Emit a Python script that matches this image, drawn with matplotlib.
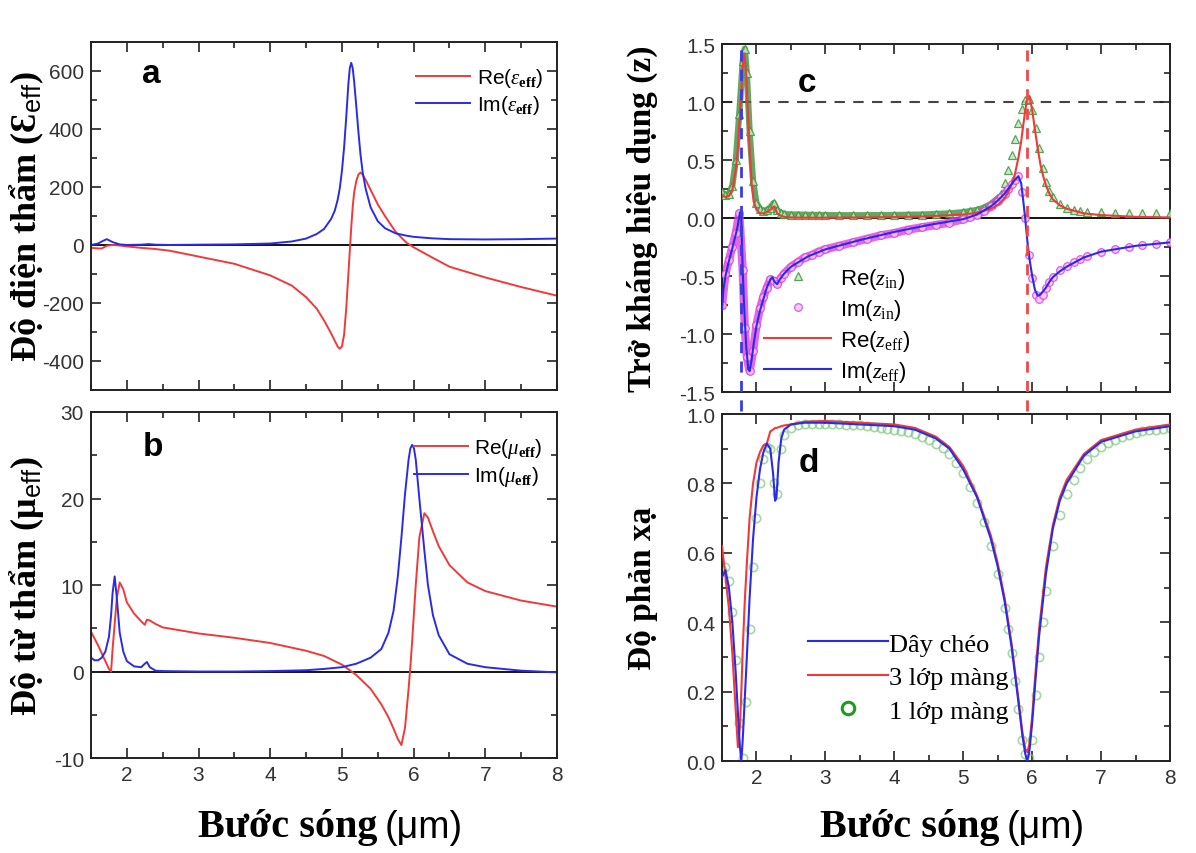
import matplotlib
matplotlib.use("Agg")
import matplotlib.pyplot as plt
import matplotlib.transforms as mtransforms
from matplotlib.ticker import MultipleLocator, FormatStrFormatter

plt.rcParams['font.family'] = ['Liberation Sans', 'DejaVu Sans']
plt.rcParams['mathtext.fontset'] = 'custom'
plt.rcParams['mathtext.rm'] = 'Liberation Serif'
plt.rcParams['mathtext.it'] = 'Liberation Serif:italic'
plt.rcParams['mathtext.bf'] = 'Liberation Serif:bold'
plt.rcParams['mathtext.sf'] = 'Liberation Sans'
plt.rcParams['mathtext.fallback'] = 'stix'
plt.rcParams['axes.unicode_minus'] = False

SERIF = ['Liberation Serif', 'DejaVu Serif']
RED = '#f03a3a'
BLUE = '#2b2be6'
GREEN = '#2e8b2e'
MAGENTA = '#e040e0'

# --- a: effective permittivity -------------------------------------------
wl_a = [1.5, 1.6, 1.65, 1.72, 1.8, 1.9, 2.0, 2.2, 2.3, 2.4, 2.6, 3.0, 3.5, 4.0,
        4.3, 4.5, 4.65, 4.75, 4.85, 4.9, 4.94, 4.97, 5.0, 5.03, 5.06, 5.09,
        5.11, 5.13, 5.15, 5.17, 5.2, 5.23, 5.26, 5.29, 5.33, 5.4, 5.5, 5.6,
        5.75, 5.9, 6.0, 6.25, 6.5, 7.0, 7.5, 8.0]
re_eps = [-10, -12, -12, -3, 0, -2, -5, -10, -12, -14, -20, -40, -65, -105,
          -140, -180, -220, -260, -305, -330, -350, -358, -350, -310, -220, -100,
          -20, 60, 130, 180, 220, 243, 250, 242, 225, 190, 140, 100,
          45, 8, -8, -42, -75, -112, -145, -175]
im_eps = [0, 5, 12, 20, 10, 2, 0, 1, 3, 1, 0, 1, 2, 5,
          12, 22, 38, 55, 90, 118, 155, 195, 255, 335, 440, 555,
          610, 628, 610, 565, 480, 390, 310, 250, 195, 130, 82, 58,
          40, 32, 28, 23, 20, 19, 20, 22]

# --- b: effective permeability -------------------------------------------
wl_b = [1.5, 1.55, 1.6, 1.65, 1.7, 1.75, 1.78, 1.8, 1.83, 1.86, 1.9, 1.95, 2.0,
        2.1, 2.2, 2.25, 2.28, 2.32, 2.4, 2.5, 3.0, 3.5, 4.0, 4.5, 4.75, 5.0,
        5.2, 5.4, 5.55, 5.65, 5.72, 5.78, 5.83, 5.88, 5.93, 5.955, 5.98, 6.005,
        6.03, 6.08, 6.15, 6.2, 6.27, 6.35, 6.5, 6.75, 7.0, 7.5, 8.0]
re_mu = [4.6, 3.8, 3.0, 2.1, 1.2, 0.3, 0.0, 2.5, 5.5, 8.5, 10.3, 9.5, 8.0,
         6.7, 5.8, 5.4, 6.0, 5.9, 5.5, 5.1, 4.4, 3.9, 3.3, 2.4, 1.8, 0.8,
         -0.4, -2.0, -3.8, -5.3, -6.6, -7.8, -8.5, -6.5, -2.0, 0.6, 3.5, 6.8,
         10.0, 15.5, 18.3, 17.8, 16.2, 14.5, 12.3, 10.3, 9.3, 8.2, 7.5]
im_mu = [1.6, 1.3, 1.3, 1.6, 2.3, 4.0, 6.5, 9.0, 11.0, 8.5, 4.5, 2.3, 1.2,
         0.6, 0.5, 0.9, 1.1, 0.5, 0.1, 0.05, 0.0, 0.0, 0.05, 0.15, 0.3, 0.5,
         0.9, 1.6, 2.6, 4.5, 7.0, 11.0, 15.5, 20.5, 24.5, 25.8, 26.2, 25.8,
         24.5, 20.0, 14.0, 10.0, 6.5, 4.2, 2.0, 0.9, 0.5, 0.1, -0.1]

# --- c: effective impedance ----------------------------------------------
wl_c = [1.5, 1.52, 1.55, 1.6, 1.65, 1.7, 1.73, 1.76, 1.78, 1.8, 1.82, 1.85,
        1.88, 1.9, 1.93, 1.96, 2.0, 2.05, 2.1, 2.15, 2.2, 2.23, 2.26, 2.3, 2.35,
        2.4, 2.5, 2.75, 3.0, 3.5, 4.0, 4.5, 5.0, 5.2, 5.4, 5.5, 5.6, 5.65, 5.7,
        5.75, 5.8, 5.84, 5.87, 5.9, 5.93, 5.96, 6.0, 6.04, 6.08, 6.12, 6.16,
        6.2, 6.25, 6.3, 6.4, 6.5, 6.75, 7.0, 7.5, 8.0]
re_z_eff = [0.2, 0.19, 0.18, 0.19, 0.24, 0.42, 0.6, 0.9, 1.1, 1.3, 1.42, 1.25,
            0.85, 0.6, 0.3, 0.14, 0.07, 0.04, 0.04, 0.05, 0.07, 0.09, 0.1, 0.04, 0.02,
            0.01, 0.005, 0.003, 0.003, 0.005, 0.008, 0.015, 0.03, 0.045, 0.08, 0.11,
            0.17, 0.22, 0.29, 0.38, 0.52, 0.66, 0.8, 0.93, 1.04, 1.05, 0.93, 0.76,
            0.6, 0.46, 0.36, 0.28, 0.21, 0.16, 0.11, 0.08, 0.04, 0.025, 0.01, 0.005]
im_z_eff = [-0.79, -0.62, -0.5, -0.37, -0.26, -0.14, -0.06, 0.05, 0.0, -0.45,
            -0.75, -1.1, -1.3, -1.32, -1.22, -1.08, -0.93, -0.8, -0.7, -0.6, -0.53,
            -0.51, -0.55, -0.57, -0.52, -0.48, -0.42, -0.33, -0.27, -0.19, -0.12,
            -0.06, -0.01, 0.03, 0.1, 0.15, 0.21, 0.25, 0.29, 0.33, 0.36, 0.3, 0.15,
            -0.01, -0.2, -0.35, -0.5, -0.62, -0.67, -0.66, -0.63, -0.6, -0.55,
            -0.51, -0.46, -0.42, -0.34, -0.29, -0.24, -0.21]

wl_zin = [1.5, 1.55, 1.6, 1.65, 1.7, 1.75, 1.8, 1.83, 1.86, 1.9, 1.95, 2.0, 2.05,
          2.1, 2.15, 2.2, 2.25, 2.3, 2.35, 2.4, 2.5, 2.6, 2.7, 2.8, 2.9, 3.0, 3.2,
          3.4, 3.6, 3.8, 4.0, 4.2, 4.4, 4.6, 4.8, 5.0, 5.1, 5.2, 5.3, 5.4, 5.5,
          5.55, 5.6, 5.65, 5.7, 5.75, 5.8, 5.85, 5.9, 5.95, 6.0, 6.05, 6.1, 6.15,
          6.2, 6.25, 6.3, 6.4, 6.5, 6.6, 6.7, 6.8, 7.0, 7.2, 7.4, 7.6, 7.8, 8.0]
re_z_in = [0.22, 0.2, 0.21, 0.28, 0.5, 0.9, 1.35, 1.46, 1.25, 0.75, 0.32, 0.13,
           0.08, 0.06, 0.07, 0.09, 0.13, 0.07, 0.045, 0.035, 0.03, 0.03, 0.028,
           0.027, 0.026, 0.025, 0.024, 0.024, 0.024, 0.025, 0.026, 0.028, 0.03,
           0.035, 0.04, 0.05, 0.06, 0.07, 0.09, 0.12, 0.17, 0.21, 0.3, 0.41, 0.54,
           0.68, 0.82, 0.94, 1.02, 1.03, 0.93, 0.78, 0.6, 0.43, 0.31, 0.23, 0.18,
           0.12, 0.09, 0.07, 0.06, 0.055, 0.05, 0.045, 0.042, 0.04, 0.04, 0.04]
im_z_in = [-0.75, -0.48, -0.36, -0.25, -0.13, 0.04, -0.45, -0.95, -1.2, -1.32,
           -1.15, -0.92, -0.78, -0.68, -0.6, -0.53, -0.54, -0.57, -0.52, -0.48,
           -0.42, -0.38, -0.34, -0.32, -0.29, -0.27, -0.24, -0.21, -0.18, -0.15,
           -0.13, -0.1, -0.08, -0.06, -0.04, -0.01, 0.01, 0.03, 0.06, 0.1, 0.15,
           0.18, 0.21, 0.25, 0.29, 0.33, 0.36, 0.22, 0.0, -0.32, -0.52, -0.66,
           -0.7, -0.66, -0.6, -0.55, -0.51, -0.45, -0.41, -0.38, -0.35, -0.33,
           -0.29, -0.27, -0.25, -0.23, -0.22, -0.21]

# resonance markers (µm)
res_lo = 1.78
res_hi = 5.93

# --- d: reflectance --------------------------------------------------------
wl_d = [1.5, 1.55, 1.6, 1.65, 1.7, 1.73, 1.76, 1.78, 1.8, 1.83, 1.86, 1.9, 1.95,
        2.0, 2.05, 2.1, 2.15, 2.2, 2.24, 2.27, 2.29, 2.32, 2.36, 2.4, 2.5, 2.7,
        3.0, 3.5, 4.0, 4.3, 4.6, 4.8, 5.0, 5.2, 5.4, 5.5, 5.6, 5.7, 5.8, 5.86,
        5.9, 5.93, 5.96, 6.0, 6.05, 6.1, 6.2, 6.3, 6.4, 6.5, 6.75, 7.0, 7.5, 8.0]
r_cross = [0.53, 0.55, 0.5, 0.4, 0.25, 0.14, 0.04, 0.0, 0.06, 0.18, 0.3, 0.47,
           0.64, 0.76, 0.84, 0.89, 0.915, 0.9, 0.83, 0.75, 0.76, 0.86, 0.93,
           0.955, 0.97, 0.975, 0.975, 0.97, 0.965, 0.955, 0.93, 0.9, 0.84, 0.76,
           0.64, 0.56, 0.46, 0.33, 0.17, 0.07, 0.02, 0.0, 0.03, 0.11, 0.24, 0.36,
           0.54, 0.67, 0.75, 0.8, 0.88, 0.92, 0.95, 0.965]
r_three = [0.62, 0.53, 0.44, 0.31, 0.14, 0.04, 0.1, 0.2, 0.32, 0.46, 0.57, 0.7,
           0.8, 0.86, 0.89, 0.91, 0.915, 0.95, 0.955, 0.96, 0.96, 0.962, 0.965,
           0.967, 0.97, 0.978, 0.98, 0.975, 0.97, 0.96, 0.935, 0.905, 0.85,
           0.765, 0.65, 0.57, 0.47, 0.34, 0.18, 0.08, 0.035, 0.025, 0.05, 0.13,
           0.26, 0.38, 0.56, 0.68, 0.76, 0.81, 0.885, 0.925, 0.955, 0.97]
wl_one = [1.5, 1.55, 1.6, 1.65, 1.7, 1.75, 1.8, 1.85, 1.9, 1.95, 2.0, 2.05, 2.1,
          2.15, 2.2, 2.25, 2.3, 2.35, 2.4, 2.5, 2.6, 2.7, 2.8, 2.9, 3.0, 3.1,
          3.2, 3.3, 3.4, 3.5, 3.6, 3.7, 3.8, 3.9, 4.0, 4.1, 4.2, 4.3, 4.4, 4.5,
          4.6, 4.7, 4.8, 4.9, 5.0, 5.1, 5.2, 5.3, 5.4, 5.5, 5.6, 5.65, 5.7, 5.75,
          5.8, 5.85, 5.9, 5.95, 6.0, 6.05, 6.1, 6.15, 6.2, 6.3, 6.4, 6.5, 6.6,
          6.7, 6.8, 6.9, 7.0, 7.1, 7.2, 7.3, 7.4, 7.5, 7.6, 7.7, 7.8, 7.9, 8.0]
r_one = [0.55, 0.56, 0.52, 0.43, 0.29, 0.11, 0.01, 0.17, 0.38, 0.56, 0.7, 0.8,
         0.87, 0.905, 0.9, 0.8, 0.77, 0.9, 0.94, 0.96, 0.968, 0.97, 0.972, 0.972,
         0.972, 0.971, 0.97, 0.969, 0.968, 0.967, 0.965, 0.963, 0.96, 0.958,
         0.955, 0.952, 0.948, 0.942, 0.935, 0.926, 0.915, 0.902, 0.885, 0.86,
         0.83, 0.79, 0.745, 0.69, 0.62, 0.54, 0.44, 0.38, 0.31, 0.23, 0.15, 0.06,
         0.02, 0.01, 0.06, 0.19, 0.3, 0.4, 0.49, 0.62, 0.71, 0.77, 0.81, 0.845,
         0.87, 0.89, 0.905, 0.916, 0.925, 0.933, 0.94, 0.945, 0.95, 0.953, 0.955,
         0.958, 0.96]


def style_axes(ax, ylim, ymaj, ymin, fmt, show_x):
    ax.set_xlim(1.5, 8)
    ax.set_ylim(*ylim)
    ax.xaxis.set_major_locator(MultipleLocator(1))
    ax.xaxis.set_minor_locator(MultipleLocator(0.5))
    ax.yaxis.set_major_locator(MultipleLocator(ymaj))
    ax.yaxis.set_minor_locator(MultipleLocator(ymin))
    ax.yaxis.set_major_formatter(FormatStrFormatter(fmt))
    ax.tick_params(which='both', direction='in', top=True, right=True,
                   width=1.2, color='#222', labelcolor='#333', labelsize=15)
    ax.tick_params(which='major', length=7)
    ax.tick_params(which='minor', length=4)
    ax.tick_params(labelbottom=show_x, pad=5)
    for s in ax.spines.values():
        s.set_linewidth(1.4)
        s.set_color('#222')


fig = plt.figure(figsize=(11.96, 8.54), dpi=100)
ax_a = fig.add_axes([0.0761, 0.5422, 0.3896, 0.4075])
ax_b = fig.add_axes([0.0761, 0.1112, 0.3896, 0.4052])
ax_c = fig.add_axes([0.6037, 0.5398, 0.3746, 0.4075])
ax_d = fig.add_axes([0.6037, 0.1077, 0.3746, 0.4063])

# a
ax_a.axhline(0, color='k', lw=1.3, zorder=1)
ax_a.plot(wl_a, re_eps, color=RED, lw=1.4, label=r'Re($\epsilon_{\mathbf{eff}}$)')
ax_a.plot(wl_a, im_eps, color=BLUE, lw=1.4, label=r'Im($\epsilon_{\mathbf{eff}}$)')
style_axes(ax_a, (-500, 700), 200, 100, '%d', False)
ax_a.legend(loc='upper right', bbox_to_anchor=(1.01, 0.985), frameon=False,
            fontsize=15, handlelength=2.6, handletextpad=0.3, labelspacing=0.2)
ax_a.text(0.11, 0.91, 'a', transform=ax_a.transAxes, fontsize=24,
          fontweight='bold', va='center')

# b
ax_b.axhline(0, color='k', lw=1.3, zorder=1)
ax_b.plot(wl_b, re_mu, color=RED, lw=1.4, label=r'Re($\mu_{\mathbf{eff}}$)')
ax_b.plot(wl_b, im_mu, color=BLUE, lw=1.4, label=r'Im($\mu_{\mathbf{eff}}$)')
style_axes(ax_b, (-10, 30), 10, 5, '%d', True)
ax_b.legend(loc='upper right', bbox_to_anchor=(1.01, 0.985), frameon=False,
            fontsize=15, handlelength=2.6, handletextpad=0.3, labelspacing=0.2)
ax_b.text(0.11, 0.9, 'b', transform=ax_b.transAxes, fontsize=24,
          fontweight='bold', va='center')

# c: dense marker runs read as a solid band below ~5.5 µm
n_band = sum(1 for w in wl_zin if w <= 5.5)
ax_c.axhline(0, color='k', lw=1.3, zorder=1)
ax_c.axhline(1.0, color='#444', lw=1.5, ls=(0, (5, 4)), zorder=1)
ax_c.plot(wl_zin[:n_band], re_z_in[:n_band], color=GREEN, lw=4.5, alpha=0.75,
          zorder=2)
ax_c.plot(wl_zin[:n_band + 3], im_z_in[:n_band + 3], color=MAGENTA, lw=6,
          alpha=0.8, zorder=2)
ax_c.plot(wl_zin, re_z_in, ls='none', marker='^', ms=5.5, mfc='#c4e6c4',
          mec='#3a9a3a', mew=0.9, alpha=0.85, zorder=3, label=r'Re($z_{\rm in}$)')
ax_c.plot(wl_zin, im_z_in, ls='none', marker='o', ms=5.5, mfc='#f6c8f6',
          mec=MAGENTA, mew=0.9, alpha=0.85, zorder=3, label=r'Im($z_{\rm in}$)')
ax_c.plot(wl_c, re_z_eff, color=RED, lw=1.5, zorder=4, label=r'Re($z_{\rm eff}$)')
ax_c.plot(wl_c, im_z_eff, color=BLUE, lw=1.5, zorder=4, label=r'Im($z_{\rm eff}$)')
style_axes(ax_c, (-1.5, 1.5), 0.5, 0.25, '%.1f', False)
ax_c.legend(loc='lower left', bbox_to_anchor=(0.05, -0.035), frameon=False,
            fontsize=16, handlelength=3.0, handletextpad=0.4, labelspacing=0.28,
            numpoints=1)
ax_c.text(0.17, 0.89, 'c', transform=ax_c.transAxes, fontsize=24,
          fontweight='bold', va='center')

# d
ax_d.plot(wl_one, r_one, ls='none', marker='o', ms=6, mfc='none', mec='#7cc77c',
          mew=1.2, alpha=0.7, zorder=2, label='1 lớp màng')
ax_d.plot(wl_d, r_three, color=RED, lw=1.5, zorder=3, label='3 lớp màng')
ax_d.plot(wl_d, r_cross, color=BLUE, lw=1.5, zorder=4, label='Dây chéo')
style_axes(ax_d, (0, 1.0), 0.2, 0.1, '%.1f', True)
handles, labels = ax_d.get_legend_handles_labels()
order = [2, 1, 0]
leg = ax_d.legend([handles[i] for i in order], [labels[i] for i in order],
                  loc='upper left', bbox_to_anchor=(0.14, 0.44), frameon=False,
                  prop={'family': SERIF, 'size': 19}, handlelength=3.0,
                  handletextpad=0.05, labelspacing=0.38, numpoints=1)
leg.legend_handles[2].set_markeredgecolor('#1f9a1f')
leg.legend_handles[2].set_markersize(9)
leg.legend_handles[2].set_markeredgewidth(2.2)
leg.legend_handles[2].set_alpha(1)
ax_d.text(0.17, 0.86, 'd', transform=ax_d.transAxes, fontsize=24,
          fontweight='bold', va='center')

# resonance lines running through both right-hand panels
pc = ax_c.get_position()
pd = ax_d.get_position()
y_low = (pd.y0 - pc.y0) / pc.height
blend = mtransforms.blended_transform_factory(ax_c.transData, ax_c.transAxes)
for xr, col in [(res_lo, '#3a3ae8'), (res_hi, '#f04848')]:
    ax_c.plot([xr, xr], [y_low, 1], transform=blend, color=col, lw=2,
              ls=(0, (4, 3)), clip_on=False, zorder=5)

# axis titles
ylab = dict(rotation=90, ha='center', va='center', family=SERIF,
            fontweight='bold')
for ax, text, size, xpos in [
        (ax_a, 'Độ điện thẩm (Ɛ$_{\\mathsf{eff}}$)', 26, 27),
        (ax_b, 'Độ từ thẩm (μ$_{\\mathsf{eff}}$)', 26, 27),
        (ax_c, 'Trở kháng hiệu dụng (z)', 24, 642),
        (ax_d, 'Độ phản xạ', 24, 642)]:
    p = ax.get_position()
    fig.text(xpos / 1196, p.y0 + p.height / 2, text, fontsize=size, **ylab)

for ax in (ax_b, ax_d):
    p = ax.get_position()
    cx = p.x0 + p.width / 2
    t = fig.text(cx + 0.045, 1 - 828 / 854, 'Bước sóng', ha='right',
                 va='center', family=SERIF, fontweight='bold', fontsize=29)
    ax.annotate('(μm)', xy=(1, 0.5), xycoords=t, xytext=(5, 0),
                textcoords='offset points', ha='left', va='center',
                fontsize=27, family=['Liberation Sans', 'DejaVu Sans'])

fig.savefig('out.png', dpi=100, facecolor='white')
